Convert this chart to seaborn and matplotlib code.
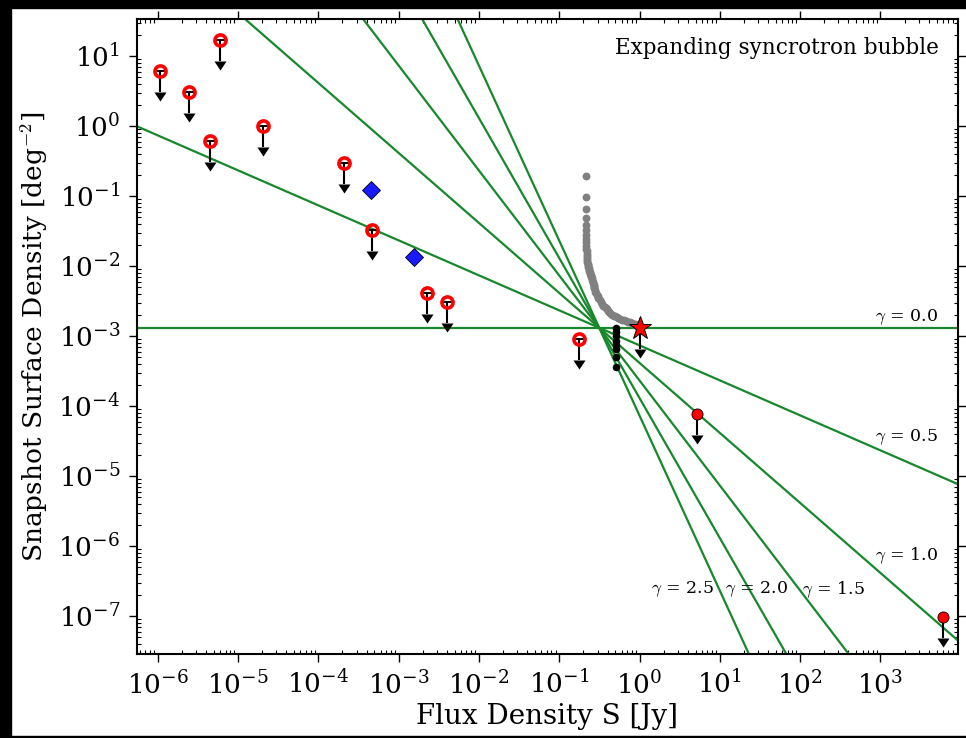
import numpy as np
import matplotlib
matplotlib.use("Agg")
import matplotlib.pyplot as plt
from matplotlib.patches import Rectangle
from matplotlib.ticker import LogLocator, NullFormatter, LogFormatterMathtext
import seaborn as sns

sns.set_theme(style="ticks")
plt.rcParams["font.family"] = ["DejaVu Serif"]
plt.rcParams["mathtext.fontset"] = "cm"
for key in ["text.color", "axes.labelcolor", "xtick.color", "ytick.color", "axes.edgecolor"]:
    plt.rcParams[key] = "black"

# Open-circle upper limits (survey snapshot limits)
open_flux = [1.07e-6, 2.48e-6, 5.92e-6, 4.52e-6, 2.07e-5, 2.07e-4, 4.67e-4, 2.26e-3, 4.04e-3, 0.178]
open_dens = [6.1, 3.03, 17.1, 0.61, 1.0, 0.30, 0.0327, 4.07e-3, 3.06e-3, 9.1e-4]

# Filled-circle upper limits
fill_flux = [5.25, 6.07e3]
fill_dens = [7.6e-5, 9.7e-8]

# Detections (diamonds)
det_flux = [4.53e-4, 1.57e-3]
det_dens = [0.122, 0.0133]

# Star upper limit
star_flux = [1.0]
star_dens = [1.31e-3]

# Cumulative snapshot densities (grey)
grey_flux = [0.214, 0.214, 0.214, 0.214, 0.214, 0.215, 0.215, 0.216, 0.216, 0.217,
             0.218, 0.219, 0.220, 0.221, 0.222, 0.223, 0.224, 0.226, 0.228, 0.230,
             0.232, 0.234, 0.237, 0.240, 0.243, 0.246, 0.249, 0.252,
             0.255, 0.258, 0.262, 0.265, 0.268, 0.270, 0.272, 0.274, 0.276,
             0.280, 0.285, 0.292, 0.300, 0.308, 0.318,
             0.330, 0.342, 0.355, 0.368,
             0.380, 0.390, 0.400, 0.412, 0.425,
             0.440, 0.460, 0.480, 0.500, 0.520, 0.540,
             0.570, 0.600, 0.640, 0.680, 0.720,
             0.760, 0.800, 0.840, 0.880, 0.910, 0.940, 0.970]
grey_dens = [0.195, 0.098, 0.065, 0.049, 0.039, 0.0325, 0.028, 0.0245, 0.0217, 0.0195,
             0.0177, 0.0163, 0.0150, 0.0139, 0.0130, 0.0122, 0.0115, 0.0108, 0.0103, 0.0098,
             0.0093, 0.0089, 0.0085, 0.0081, 0.0078, 0.0075, 0.0072, 0.0070,
             0.0067, 0.0063, 0.0060, 0.0057, 0.0054, 0.0052, 0.0050, 0.0048, 0.0046,
             0.0043, 0.0041, 0.0039, 0.0037, 0.0035, 0.0033,
             0.0031, 0.0029, 0.0027, 0.0026,
             0.0025, 0.0024, 0.0023, 0.0022, 0.0021,
             0.00205, 0.0020, 0.00195, 0.0019, 0.00185, 0.0018,
             0.00176, 0.00172, 0.00168, 0.00164, 0.0016,
             0.00157, 0.00154, 0.0015, 0.00147, 0.00144, 0.00141, 0.00138]

# Black points
black_flux = [0.506, 0.506, 0.506, 0.506, 0.506, 0.506, 0.506, 0.506]
black_dens = [1.31e-3, 1.15e-3, 1.0e-3, 8.6e-4, 7.4e-4, 6.45e-4, 5.06e-4, 3.64e-4]

# Power-law models N(>S) = N0 (S/S0)^-gamma
gammas = [0.0, 0.5, 1.0, 1.5, 2.0, 2.5]
S0 = 0.315
N0 = 1.31e-3

# Axis ranges and labelled decades
xlim = (10 ** -6.258, 10 ** 3.966)
ylim = (10 ** -7.543, 10 ** 1.529)
x_decades = [-6, -5, -4, -3, -2, -1, 0, 1, 2, 3]
y_decades = [-7, -6, -5, -4, -3, -2, -1, 0, 1]

fig, ax = plt.subplots(figsize=(9.66, 7.38), dpi=100)
fig.subplots_adjust(left=0.1418, right=0.9917, top=0.9743, bottom=0.1138)
ax.set_xscale("log")
ax.set_yscale("log")

s_grid = np.logspace(-7, 5, 200)
for g in gammas:
    sns.lineplot(x=s_grid, y=N0 * (s_grid / S0) ** (-g), color="#17882c",
                 lw=1.6, ax=ax, zorder=1)


def limit_arrows(x, y, z):
    x = np.asarray(x)
    y = np.asarray(y)
    lo = y * 0.5
    ax.vlines(x, lo, y, color="black", lw=1.5, zorder=z)
    ax.plot(x, y, ls="none", marker="_", ms=7, mew=1.4, color="black", zorder=z)
    ax.plot(x, lo, ls="none", marker=[(-1, 0), (1, 0), (0, -1.5), (-1, 0)],
            ms=13, color="black", mew=0, zorder=z)


limit_arrows(open_flux, open_dens, 3)
limit_arrows(fill_flux, fill_dens, 3)
limit_arrows(star_flux, star_dens, 3)

sns.scatterplot(x=grey_flux, y=grey_dens, color="#808080", s=32, linewidth=0,
                ax=ax, zorder=2)
sns.scatterplot(x=black_flux, y=black_dens, color="black", s=30, linewidth=0,
                ax=ax, zorder=2)
ax.plot(open_flux, open_dens, ls="none", marker="o", ms=8, mfc="none",
        mec="#ff0000", mew=2.6, zorder=4)
ax.plot(fill_flux, fill_dens, ls="none", marker="o", ms=8, mfc="#ff0000",
        mec="black", mew=0.6, zorder=4)
ax.plot(det_flux, det_dens, ls="none", marker="D", ms=9, mfc="#1a1aff",
        mec="black", mew=0.6, zorder=4)
ax.plot(star_flux, star_dens, ls="none", marker="*", ms=17, mfc="#ff0000",
        mec="black", mew=0.7, zorder=4)

ax.set_xlim(*xlim)
ax.set_ylim(*ylim)

ax.set_xticks([10.0 ** k for k in x_decades])
ax.set_yticks([10.0 ** k for k in y_decades])
for axis in (ax.xaxis, ax.yaxis):
    axis.set_major_formatter(LogFormatterMathtext())
    axis.set_minor_locator(LogLocator(base=10, subs=np.arange(2, 10), numticks=30))
    axis.set_minor_formatter(NullFormatter())
ax.set_xlim(*xlim)
ax.set_ylim(*ylim)

ax.tick_params(which="major", direction="out", length=6, width=1.0,
               top=True, right=True, labelsize=19, pad=6, colors="black")
ax.tick_params(which="minor", direction="in", length=3, width=0.8,
               top=True, right=True, colors="black")
for sp in ax.spines.values():
    sp.set_linewidth(1.5)
    sp.set_color("black")

ax.set_xlabel("Flux Density S [Jy]", fontsize=20, labelpad=3)
ax.set_ylabel("Snapshot Surface Density [deg$^{-2}$]", fontsize=19, labelpad=6)

ax.text(0.977, 0.954, "Expanding syncrotron bubble", transform=ax.transAxes,
        ha="right", va="center", fontsize=15.5, color="black")

gamma_labels = [("0.0", 0.9757, 0.531, "right"), ("0.5", 0.9757, 0.342, "right"),
                ("1.0", 0.9757, 0.154, "right"), ("2.5", 0.665, 0.102, "center"),
                ("2.0", 0.755, 0.102, "center"), ("1.5", 0.848, 0.102, "center")]
for val, tx, ty, ha in gamma_labels:
    ax.text(tx, ty, r"$\gamma$ = " + val, transform=ax.transAxes, ha=ha,
            va="center", fontsize=12.5, color="black")

# dark frame strips around the canvas
for rx, ry, rw, rh in [(0, 1 - 8 / 738, 1, 8 / 738), (0, 0, 11 / 966, 1),
                       (0, 0, 1, 2 / 738)]:
    fig.patches.append(Rectangle((rx, ry), rw, rh, transform=fig.transFigure,
                                 color="black", zorder=10))

fig.savefig("out.png", dpi=100)
